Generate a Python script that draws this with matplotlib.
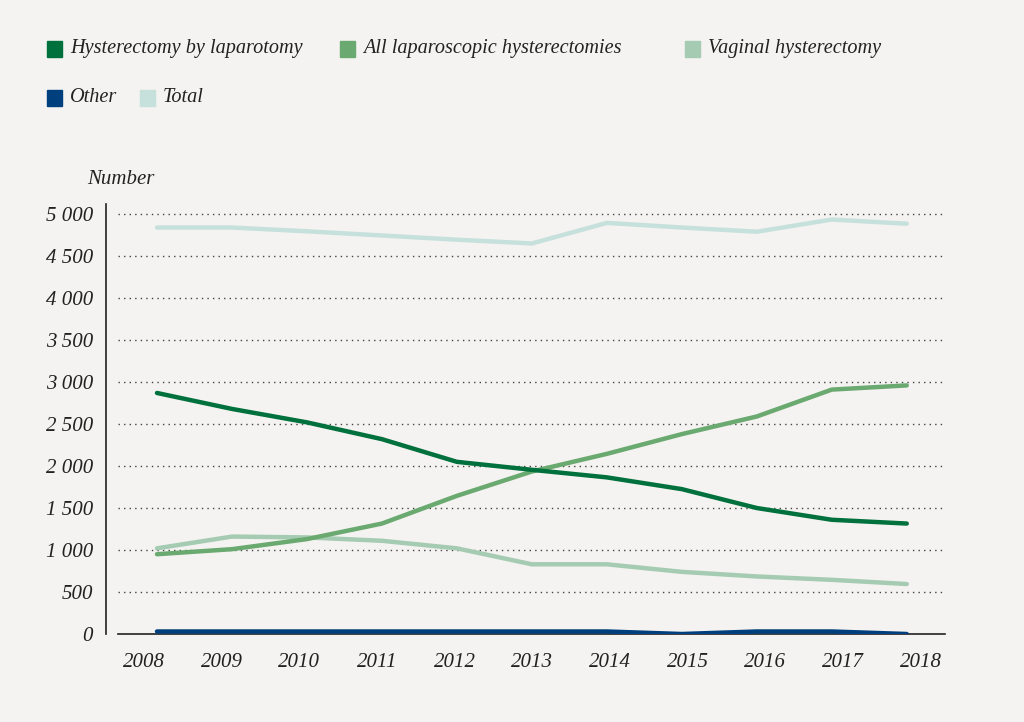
import numpy as np
import matplotlib.pyplot as plt
from matplotlib.patches import Rectangle
from matplotlib.ticker import FuncFormatter

# values
years = [2008, 2009, 2010, 2011, 2012, 2013, 2014, 2015, 2016, 2017, 2018]
laparotomy = [2870, 2680, 2520, 2320, 2050, 1955, 1865, 1725, 1500, 1360, 1315]
laparoscopic = [950, 1010, 1130, 1315, 1645, 1935, 2145, 2380, 2590, 2910, 2960]
vaginal = [1020, 1160, 1150, 1110, 1020, 830, 830, 740, 685, 645, 595]
other = [30, 30, 30, 30, 30, 30, 30, 0, 30, 30, 0]
total = [4840, 4840, 4795, 4745, 4695, 4650, 4895, 4840, 4790, 4935, 4885]

labels = ["Hysterectomy by laparotomy", "All laparoscopic hysterectomies",
          "Vaginal hysterectomy", "Other", "Total"]
colors = ["#00703c", "#6aa96f", "#a5cbb3", "#003f7d", "#c6e1dc"]
series = [laparotomy, laparoscopic, vaginal, other, total]

bg = "#f4f3f1"
fnt = "Liberation Serif"

fig = plt.figure(figsize=(10.24, 7.22), dpi=100, facecolor=bg)
ax = fig.add_axes([118 / 1024, 1 - 634 / 722, (945 - 118) / 1024, (634 - 204) / 722])
ax.set_facecolor(bg)

# total first so it sits behind, other last on top
for idx in [4, 2, 1, 0, 3]:
    ax.plot(years, series[idx], color=colors[idx], lw=3.2,
            solid_capstyle="round", solid_joinstyle="round", zorder=3)

ax.set_xlim(2007.48, 2018.51)
ax.set_ylim(0, 5120)
# year labels in the original are spread a bit wider than the data points
ax.set_xticks([2007.827 + 1.036 * i for i in range(len(years))])
ax.set_xticklabels([str(y) for y in years])
ax.set_yticks(np.arange(0, 5001, 500))
ax.yaxis.set_major_formatter(FuncFormatter(lambda v, p: f"{int(v):,}".replace(",", " ")))

for y in np.arange(500, 5001, 500):
    ax.axhline(y, color="#444444", lw=1.0, linestyle=(0, (1, 3)), zorder=1)

for s in ["top", "right"]:
    ax.spines[s].set_visible(False)
ax.spines["left"].set_position(("outward", 9))
ax.spines["left"].set_color("#222222")
ax.spines["bottom"].set_color("#222222")
ax.spines["left"].set_linewidth(1.2)
ax.spines["bottom"].set_linewidth(1.2)

ax.tick_params(axis="both", length=0, labelsize=15, colors="#222222")
ax.tick_params(axis="y", pad=9)
ax.tick_params(axis="x", pad=14)
for lab in ax.get_xticklabels() + ax.get_yticklabels():
    lab.set_fontfamily(fnt)
    lab.set_fontstyle("italic")

fig.text(87 / 1024, 1 - 184 / 722, "Number", fontsize=15, fontfamily=fnt,
         fontstyle="italic", color="#222222", va="baseline")

# legend as a flowing row of swatches
leg_pos = [(47, 49), (340, 49), (685, 49), (47, 98), (140, 98)]
for (px, py), lab, col in zip(leg_pos, labels, colors):
    fig.add_artist(Rectangle((px / 1024, 1 - (py + 8) / 722), 15 / 1024, 16 / 722,
                             transform=fig.transFigure, color=col))
    fig.text((px + 23) / 1024, 1 - py / 722, lab, fontsize=14.6, fontfamily=fnt,
             fontstyle="italic", color="#222222", va="center")

fig.savefig("out.png", dpi=100, facecolor=bg)
